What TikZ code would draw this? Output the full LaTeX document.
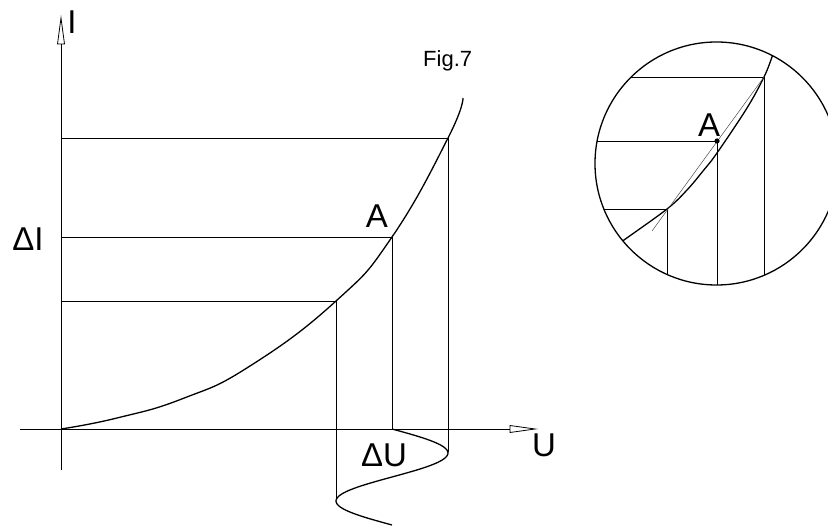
\documentclass[tikz,border=0pt]{standalone}
\usepackage{fontspec}
\setmainfont{Liberation Sans}
\begin{document}
\begin{tikzpicture}[x=1pt,y=-1pt,
  ln/.style={line width=0.9pt},
  crv/.style={line width=1.3pt},
  thin/.style={line width=0.5pt, draw=black!70},
  arr/.style={line width=0.8pt, fill=white},
  big/.style={font=\fontsize{33}{36}\selectfont, inner sep=0pt, anchor=base},
  small/.style={font=\fontsize{22}{24}\selectfont, inner sep=0pt, anchor=base west}]
\clip (0,0) rectangle (828,526);
\fill[white] (0,0) rectangle (828,526);
% axes
\coordinate (O) at (61,429);
\coordinate (Ytip) at (61,18);
\coordinate (Xtip) at (535,429);
\draw[ln] (61,470) -- (61,44);
\draw[ln] (20,429) -- (510,429);
\draw[arr] (Ytip) -- (57.5,44) -- (64.5,44) -- cycle;
\draw[arr] (Xtip) -- (510,425.5) -- (510,432.5) -- cycle;
% characteristic
\coordinate (P1) at (336,301);
\coordinate (A) at (392,237);
\coordinate (P3) at (448,138);
\draw[crv] plot[smooth,tension=0.8] coordinates {(61,429) (117,418) (183,398.5) (250,366) (336,301) (392,237) (448,138) (463,98)};
% projections
\draw[ln] (61,138) -- (P3) -- (448,452);
\draw[ln] (61,237) -- (A) -- (392,429);
\draw[ln] (61,301) -- (P1) -- (336,500);
% sinusoid
\draw[crv] plot[smooth,variable=\t,domain=429:525,samples=60] ({392+56*sin(3.75*(\t-429))},\t);
% labels
\node[big] (lI) at (72,34) {I};
\node[big] (lU) at (544,457) {U};
\node[big] (ldI) at (28,251) {ΔI};
\node[big] (ldU) at (384,467) {ΔU};
\node[big] (lA) at (377,228) {A};
\node[small] (fig) at (423,67) {Fig.7};
% magnified circle
\begin{scope}
\clip (716.5,163.5) circle (121.5);
\draw[ln] (590,77) -- (764,77) -- (764,300);
\draw[ln] (590,141) -- (717,141) -- (717,300);
\draw[ln] (590,209) -- (667,209) -- (667,300);
\draw[crv] plot[smooth,tension=0.6] coordinates {(610,250) (624,240) (667,209) (687,190) (703,171) (717,153) (747,108) (764,77) (772,57) (776,45)};
\draw[thin] (652,231) -- (764,77);
\end{scope}
\draw[crv] (716.5,163.5) circle (121.5);
\fill (717,141) circle (2.6);
\node[big] (lA2) at (709,137) {A};
\end{tikzpicture}
\end{document}
